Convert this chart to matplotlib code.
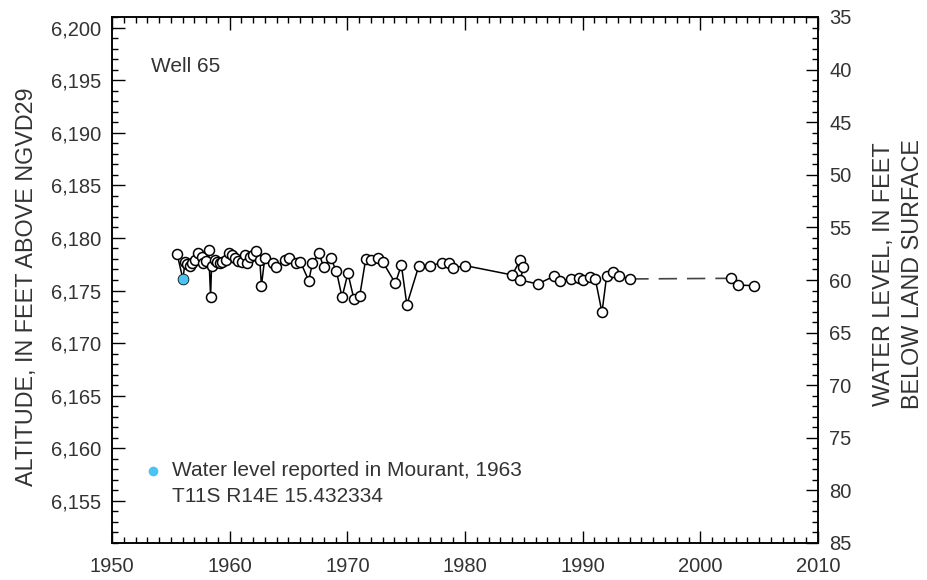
import matplotlib
matplotlib.use("Agg")
import matplotlib.pyplot as plt
from matplotlib.ticker import MultipleLocator, FuncFormatter

plt.rcParams['font.family'] = ['Liberation Sans', 'DejaVu Sans']

# ---- data ----
years = [1955.54, 1956.03, 1956.20, 1956.39, 1956.62, 1956.76, 1957.04, 1957.32, 1957.61,
         1957.75, 1957.98, 1958.21, 1958.38, 1958.46, 1958.74, 1958.94, 1959.17, 1959.39,
         1959.73, 1959.96, 1960.16, 1960.44, 1960.72, 1961.01, 1961.29, 1961.48, 1961.77,
         1961.99, 1962.28, 1962.56, 1962.70, 1962.98, 1963.69, 1963.98, 1964.68, 1965.05,
         1965.67, 1966.01, 1966.72, 1967.03, 1967.59, 1967.99, 1968.59, 1969.07, 1969.55,
         1970.05, 1970.56, 1971.05, 1971.56, 1972.04, 1972.60, 1973.03, 1974.08, 1974.59,
         1975.06, 1976.08, 1977.05, 1978.07, 1978.63, 1979.02, 1980.04, 1984.01, 1984.69,
         1984.97, 1984.69, 1986.18, 1987.60, 1988.08, 1989.01, 1989.66, 1990.06, 1990.63,
         1991.08, 1991.64, 1992.04, 1992.60, 1993.05, 1994.05]
altitude = [6178.44, 6176.07, 6177.68, 6177.49, 6177.33, 6177.59, 6177.90, 6178.54, 6178.22,
            6177.59, 6177.83, 6178.85, 6174.41, 6177.33, 6177.90, 6177.74, 6177.59, 6177.68,
            6177.90, 6178.54, 6178.38, 6178.06, 6177.83, 6177.74, 6178.38, 6177.64, 6178.22,
            6178.38, 6178.79, 6177.90, 6175.46, 6178.06, 6177.59, 6177.26, 6177.90, 6178.06,
            6177.64, 6177.74, 6175.93, 6177.59, 6178.54, 6177.21, 6178.06, 6176.86, 6174.36,
            6176.64, 6174.19, 6174.48, 6177.97, 6177.90, 6178.06, 6177.68, 6175.69, 6177.43,
            6173.65, 6177.36, 6177.36, 6177.64, 6177.64, 6177.17, 6177.36, 6176.48, 6177.90,
            6177.21, 6176.00, 6175.62, 6176.38, 6175.90, 6176.10, 6176.16, 6176.00, 6176.26,
            6176.07, 6172.93, 6176.38, 6176.73, 6176.41, 6176.10]
years_late = [2002.64, 2003.19, 2004.57]
altitude_late = [6176.16, 6175.52, 6175.46]
mourant_year = [1956.03]
mourant_alt = [6176.07]

land_surface = 6236.0

well_label = "Well 65"
legend_label = "Water level reported in Mourant, 1963"
location_label = "T11S R14E 15.432334"

# ---- figure ----
fig = plt.figure(figsize=(9.27, 5.80), dpi=100)
ax = fig.add_axes([112/927, 1-543/580, (818-112)/927, (543-17)/580])
tc = '#333333'

ax.set_xlim(1950, 2010)
ax.set_ylim(6151, 6201)

line_kw = dict(color='black', lw=1.1, marker='o', ms=7.2, mfc='white', mec='black', mew=1.1, zorder=3)
ax.plot(years, altitude, **line_kw)
ax.plot(years_late, altitude_late, **line_kw)
ax.plot([years[-1], years_late[0]], [altitude[-1], altitude_late[0]], color='#444444',
        lw=1.2, dashes=(11, 6), zorder=2)
ax.plot(mourant_year, mourant_alt, 'o', color='#4cc3f0', ms=7.2, mec='none', zorder=4)

ax.xaxis.set_major_locator(MultipleLocator(10))
ax.xaxis.set_minor_locator(MultipleLocator(1))
ax.yaxis.set_major_locator(MultipleLocator(5))
ax.yaxis.set_minor_locator(MultipleLocator(1))
ax.yaxis.set_major_formatter(FuncFormatter(lambda v, p: f"{int(round(v)):,}"))
ax.tick_params(which='both', direction='in', top=True, right=False, colors='black',
               labelcolor=tc, labelsize=14.5, width=1)
ax.tick_params(which='major', length=9, pad=8)
ax.tick_params(which='minor', length=4.5)
ax.tick_params(axis='x', which='major', pad=10)
for s in ax.spines.values():
    s.set_linewidth(1.1)

ax.set_ylabel("ALTITUDE, IN FEET ABOVE NGVD29", fontsize=16.8, color=tc)
ax.yaxis.set_label_coords(-0.105, 0.487)

ax2 = ax.twinx()
ax2.set_ylim(land_surface - 6151, land_surface - 6201)
ax2.yaxis.set_major_locator(MultipleLocator(5))
ax2.yaxis.set_minor_locator(MultipleLocator(1))
ax2.tick_params(which='both', direction='in', colors='black', labelcolor=tc, labelsize=14.5, width=1)
ax2.tick_params(which='major', length=9, pad=8)
ax2.tick_params(which='minor', length=4.5)
ax2.set_ylabel("WATER LEVEL, IN FEET\nBELOW LAND SURFACE", fontsize=16.8, color=tc,
               rotation=90, linespacing=1.35, va='center', ha='center')
ax2.yaxis.set_label_coords(1.113, 0.512)
for s in ax2.spines.values():
    s.set_linewidth(1.1)

ax.text(0.055, 0.905, well_label, transform=ax.transAxes, fontsize=15, color=tc,
        ha='left', va='center')
ax.plot([0.058], [0.137], 'o', transform=ax.transAxes, color='#4cc3f0', ms=7, mec='none',
        clip_on=False)
ax.text(0.085, 0.137, legend_label, transform=ax.transAxes, fontsize=15, color=tc,
        ha='left', va='center')
ax.text(0.085, 0.088, location_label, transform=ax.transAxes, fontsize=15, color=tc,
        ha='left', va='center')

fig.savefig("out.png", dpi=100)
